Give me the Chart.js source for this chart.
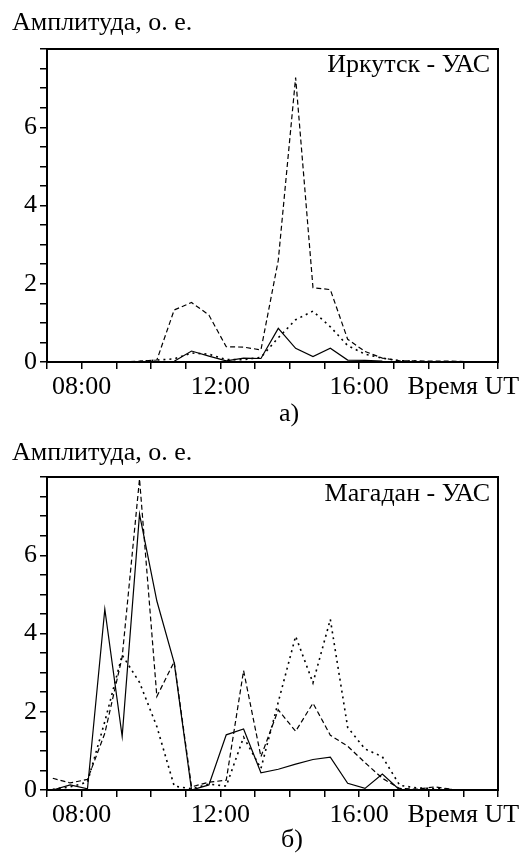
<!DOCTYPE html>
<html><head><meta charset="utf-8">
<script src="https://cdn.jsdelivr.net/npm/chart.js@4.4.1/dist/chart.umd.min.js"></script>
<style>
html,body{margin:0;padding:0;background:#fff;}
body{width:524px;height:857px;position:relative;overflow:hidden;font-family:'Liberation Serif','Times New Roman',serif;color:#000;}
canvas{position:absolute;left:0;}
.t{position:absolute;font-size:26px;line-height:26px;white-space:nowrap;z-index:2;}
</style></head><body>
<canvas id="c1" width="524" height="400" style="top:0px;width:524px;height:400px"></canvas>
<canvas id="c2" width="524" height="400" style="top:428px;width:524px;height:400px"></canvas>
<div class="t" style="left:12px;top:9px">Амплитуда, о. е.</div>
<div class="t" style="right:34px;top:51px">Иркутск - УАС</div>
<div class="t" style="left:239px;width:100px;text-align:center;top:400px">а)</div>
<div class="t" style="left:12px;top:439px">Амплитуда, о. е.</div>
<div class="t" style="right:34px;top:480px">Магадан - УАС</div>
<div class="t" style="left:242px;width:100px;text-align:center;top:826px">б)</div>
<script>
// time of each sample (UT)
const times = ['07:10','07:40','08:10','08:40','09:10','09:40','10:10','10:40','11:10','11:40','12:10','12:40','13:10','13:40','14:10','14:40','15:10','15:40','16:10','16:40','17:10','17:40','18:10','18:40','19:10'];

// Иркутск - УАС
const irkSolid  = [null,null,null,null,null,null,null,0.02,0.28,0.15,0.03,0.10,0.09,0.86,0.35,0.14,0.35,0.05,0.04,0.02,null,null,null,null,null];
const irkDashed = [null,null,null,null,0.00,0.02,0.05,1.33,1.52,1.20,0.39,0.38,0.31,2.60,7.27,1.90,1.85,0.58,0.27,0.10,0.03,0.03,0.02,0.02,0.01];
const irkDotted = [null,null,null,null,null,0.01,0.05,0.08,0.23,0.20,0.06,0.06,0.12,0.62,1.08,1.30,0.90,0.42,0.20,0.10,0.03,0.02,null,null,null];

// Магадан - УАС
const magSolid  = [0.00,0.13,0.03,4.62,1.37,7.05,4.83,3.25,0.00,0.13,1.41,1.56,0.44,0.53,0.66,0.78,0.84,0.17,0.04,0.41,0.00,null,null,null,null];
const magDashed = [0.30,0.18,0.27,1.45,3.40,7.95,2.39,3.28,0.08,0.20,0.25,3.05,0.85,2.05,1.50,2.22,1.40,1.12,0.70,0.30,0.04,0.02,0.08,0.02,null];
const magDotted = [0.02,0.08,0.20,1.75,3.45,2.75,1.62,0.10,0.03,0.15,0.10,1.35,0.55,2.25,3.93,2.74,4.36,1.60,1.05,0.85,0.12,0.05,0.04,0.01,null];

// axis labels
const xTickValues = [8, 12, 16, 19];
const xTickLabels = ['08:00', '12:00', '16:00', 'Время UT'];
const yTickValues = [0, 2, 4, 6];
const yTickLabels = ['0', '2', '4', '6'];

const FONT = "'Liberation Serif','Times New Roman',serif";
function toHours(s){const p=s.split(':');return +p[0] + (+p[1])/60;}
function pts(vals){const out=[];vals.forEach((v,i)=>{if(v!==null) out.push({x:toHours(times[i]),y:v});});return out;}

const frame = {id:'frame', afterDraw(c){const a=c.chartArea,x=c.ctx;x.save();x.strokeStyle='#000';x.lineWidth=2;x.strokeRect(a.left,a.top,a.right-a.left,a.bottom-a.top);x.restore();}};

function ds(vals, style){
  const d = {data:pts(vals), borderColor:'#000', pointRadius:0, tension:0, fill:false, borderWidth:1.2};
  if(style==='dash'){d.borderDash=[5,3];}
  if(style==='dot'){d.borderDash=[2,4];d.borderWidth=1.6;}
  return d;
}

function makeChart(id, solid, dashed, dotted){
  new Chart(document.getElementById(id), {
    type:'line',
    data:{datasets:[ds(solid,'solid'), ds(dashed,'dash'), ds(dotted,'dot')]},
    options:{
      responsive:false, animation:false, devicePixelRatio:1,
      layout:{autoPadding:false, padding:{top:49,left:0,right:26,bottom:0}},
      plugins:{legend:{display:false}, tooltip:{enabled:false}},
      scales:{
        x:{type:'linear', min:7, max:20,
          afterFit(s){s.height=38;},
          border:{display:false},
          grid:{drawOnChartArea:false, drawTicks:true, tickLength:7, color:'#000', lineWidth:1.5},
          ticks:{stepSize:1, autoSkip:false, maxRotation:0, minRotation:0, padding:3, color:'#000',
            font:{family:FONT, size:26},
            callback:(v)=>{const i=xTickValues.indexOf(v);return i>=0?xTickLabels[i]:'';}}
        },
        y:{min:0, max:8,
          afterFit(s){s.width=47;},
          border:{display:false},
          grid:{drawOnChartArea:false, drawTicks:true, tickLength:7, color:'#000', lineWidth:1.5},
          ticks:{stepSize:0.5, autoSkip:false, padding:3, color:'#000',
            font:{family:FONT, size:26},
            callback:(v)=>{const i=yTickValues.indexOf(v);return i>=0?yTickLabels[i]:'';}}
        }
      }
    },
    plugins:[frame]
  });
}
makeChart('c1', irkSolid, irkDashed, irkDotted);
makeChart('c2', magSolid, magDashed, magDotted);
</script>
</body></html>
